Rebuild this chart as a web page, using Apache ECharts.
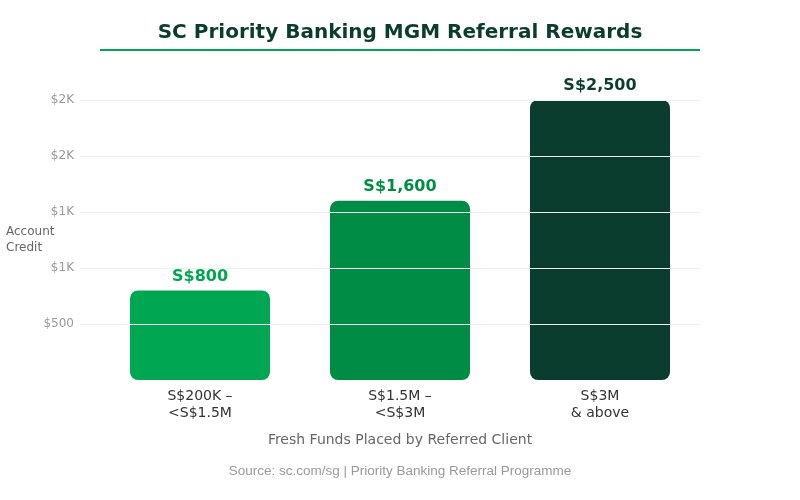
<!DOCTYPE html>
<html>
<head>
<meta charset="utf-8">
<script src="https://cdn.jsdelivr.net/npm/echarts@6/dist/echarts.min.js"></script>
</head>
<body style="margin:0">
<div id="main" style="width:800px; height:500px;"></div>
<script>
// 数据
var categories = ['S$200K –\n<S$1.5M', 'S$1.5M –\n<S$3M', 'S$3M\n& above'];
var rewards = [800, 1600, 2500];
var barColors = ['#00a651', '#008c45', '#0b3d2e'];
var yTicks = [500, 1000, 1500, 2000, 2500];
var yTickLabels = ['$500', '$1K', '$1K', '$2K', '$2K'];

var chart = echarts.init(document.getElementById('main'));

var barData = rewards.map(function (v, i) {
	return {
		value: v,
		itemStyle: { color: barColors[i] },
		label: { color: barColors[i] }
	};
});

chart.setOption({
	textStyle: { fontFamily: 'DejaVu Sans' },
	title: {
		text: 'SC Priority Banking MGM Referral Rewards',
		left: 'center',
		top: 18,
		textStyle: { fontSize: 20, fontWeight: 'bold', color: '#0b3d2e' }
	},
	graphic: [
		{
			type: 'line',
			shape: { x1: 100, y1: 50, x2: 700, y2: 50 },
			style: { stroke: '#00a651', lineWidth: 2 }
		},
		{
			type: 'text',
			left: 'center',
			top: 464,
			style: {
				text: 'Source: sc.com/sg | Priority Banking Referral Programme',
				fill: '#999', fontSize: 13.5
			}
		}
	],
	grid: [
		{ left: 100, right: 100, top: 100, bottom: 120, outerBoundsMode: 'none' },  // 柱子
		{ left: 80, right: 100, top: 100, bottom: 120, outerBoundsMode: 'none' }    // 网格线和刻度
	],
	xAxis: [
		{
			type: 'category',
			gridIndex: 0,
			data: categories,
			axisLine: { show: false },
			axisTick: { show: false },
			axisLabel: { color: '#333', fontSize: 14, lineHeight: 17, margin: 8 },
			name: 'Fresh Funds Placed by Referred Client',
			nameLocation: 'middle',
			nameGap: 53,
			nameMoveOverlap: false,
			nameTextStyle: { color: '#666', fontSize: 14 }
		},
		{ type: 'value', gridIndex: 1, min: 0, max: 1, show: false }
	],
	yAxis: [
		{ type: 'value', gridIndex: 0, min: 0, max: 2500, interval: 500, show: false },
		{
			type: 'value',
			gridIndex: 1,
			min: 0,
			max: 2500,
			interval: 500,
			z: 5,
			axisLine: { show: false },
			axisTick: { show: false },
			axisLabel: {
				color: '#999', fontSize: 12, margin: 6,
				showMinLabel: false,
				formatter: function (v) {
					var i = yTicks.indexOf(v);
					return i >= 0 ? yTickLabels[i] : '';
				}
			},
			splitLine: {
				lineStyle: { color: ['rgba(0,0,0,0)', '#eeeeee', '#eeeeee', '#eeeeee', '#eeeeee', '#eeeeee'], width: 1 }
			},
			name: 'Account\nCredit',
			nameLocation: 'middle',
			nameRotate: 0,
			nameGap: 74,
			nameMoveOverlap: false,
			nameTextStyle: { color: '#666', fontSize: 12, align: 'left', lineHeight: 16, padding: [10, 0, 0, 0] }
		}
	],
	series: [
		{
			type: 'bar',
			xAxisIndex: 0,
			yAxisIndex: 0,
			barWidth: '70%',
			data: barData,
			itemStyle: { borderRadius: 8 },
			label: {
				show: true,
				position: 'top',
				distance: 6,
				fontSize: 16,
				fontWeight: 'bold',
				formatter: function (p) {
					return 'S$' + p.value.toLocaleString('en-US');
				}
			}
		}
	]
});
</script>
</body>
</html>
